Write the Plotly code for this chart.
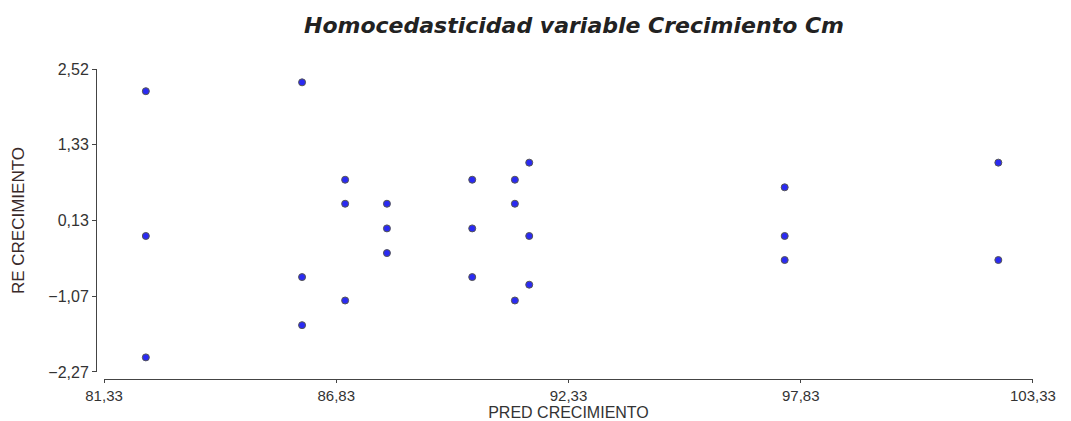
import plotly.graph_objects as go

# Residuals vs predicted values for the "Crecimiento Cm" regression model
pred_crecimiento = [
    82.32, 82.32, 82.32,
    86.02, 86.02, 86.02,
    87.04, 87.04, 87.04,
    88.03, 88.03, 88.03,
    90.05, 90.05, 90.05,
    91.06, 91.06, 91.06,
    91.40, 91.40, 91.40,
    97.45, 97.45, 97.45,
    102.51, 102.51,
]
re_crecimiento = [
    2.17, -0.12, -2.04,
    2.31, -0.77, -1.53,
    0.77, 0.39, -1.14,
    0.39, 0.00, -0.39,
    0.77, 0.00, -0.77,
    0.77, 0.39, -1.14,
    1.04, -0.12, -0.89,
    0.65, -0.12, -0.50,
    1.04, -0.50,
]

x_range = [81.33, 103.33]
x_step = 5.5
y_ticks = [2.52, 1.33, 0.13, -1.07, -2.27]

W, H = 1071, 421
font = "Liberation Sans, Arial, sans-serif"

fig = go.Figure(
    go.Scatter(
        x=pred_crecimiento,
        y=re_crecimiento,
        mode="markers",
        marker=dict(size=7, color="#2a2af2", line=dict(color="#555555", width=1)),
        cliponaxis=False,
        showlegend=False,
    )
)

fig.update_layout(
    width=W,
    height=H,
    margin=dict(l=0, r=0, t=0, b=0),
    paper_bgcolor="white",
    plot_bgcolor="white",
    separators=",.",
    title=dict(
        text="<b><i>Homocedasticidad variable Crecimiento Cm</i></b>",
        font=dict(family="DejaVu Sans, sans-serif", size=22, color="#222222"),
        x=574 / W,
        xanchor="center",
        y=1 - 25 / H,
        yanchor="middle",
        xref="paper",
        yref="container",
    ),
    xaxis=dict(
        domain=[104 / W, 1033 / W],
        anchor="free",
        position=1 - 379 / H,
        range=[x_range[0] - 0.001, x_range[1] + 0.001],
        tick0=x_range[0],
        dtick=x_step,
        tickformat=".2f",
        ticks="outside",
        ticklen=3,
        tickcolor="#444444",
        showline=True,
        linecolor="#444444",
        linewidth=1,
        showgrid=False,
        zeroline=False,
        tickfont=dict(family=font, size=15, color="#333333"),
        title=dict(
            text="PRED CRECIMIENTO",
            font=dict(family=font, size=16, color="#333333"),
            standoff=5,
        ),
        automargin=False,
    ),
    yaxis=dict(
        domain=[1 - 372 / H, 1 - 69 / H],
        anchor="free",
        position=96 / W,
        range=[y_ticks[-1] - 0.001, y_ticks[0] + 0.001],
        tickvals=y_ticks,
        tickformat=".2f",
        ticks="outside",
        ticklen=4,
        tickcolor="#444444",
        showline=True,
        linecolor="#444444",
        linewidth=1,
        showgrid=False,
        zeroline=False,
        tickfont=dict(family=font, size=16, color="#333333"),
        title=dict(
            text="RE CRECIMIENTO",
            font=dict(family=font, size=17, color="#3a2a2a"),
            standoff=18,
        ),
        automargin=False,
    ),
)

fig.write_html("out.html")
